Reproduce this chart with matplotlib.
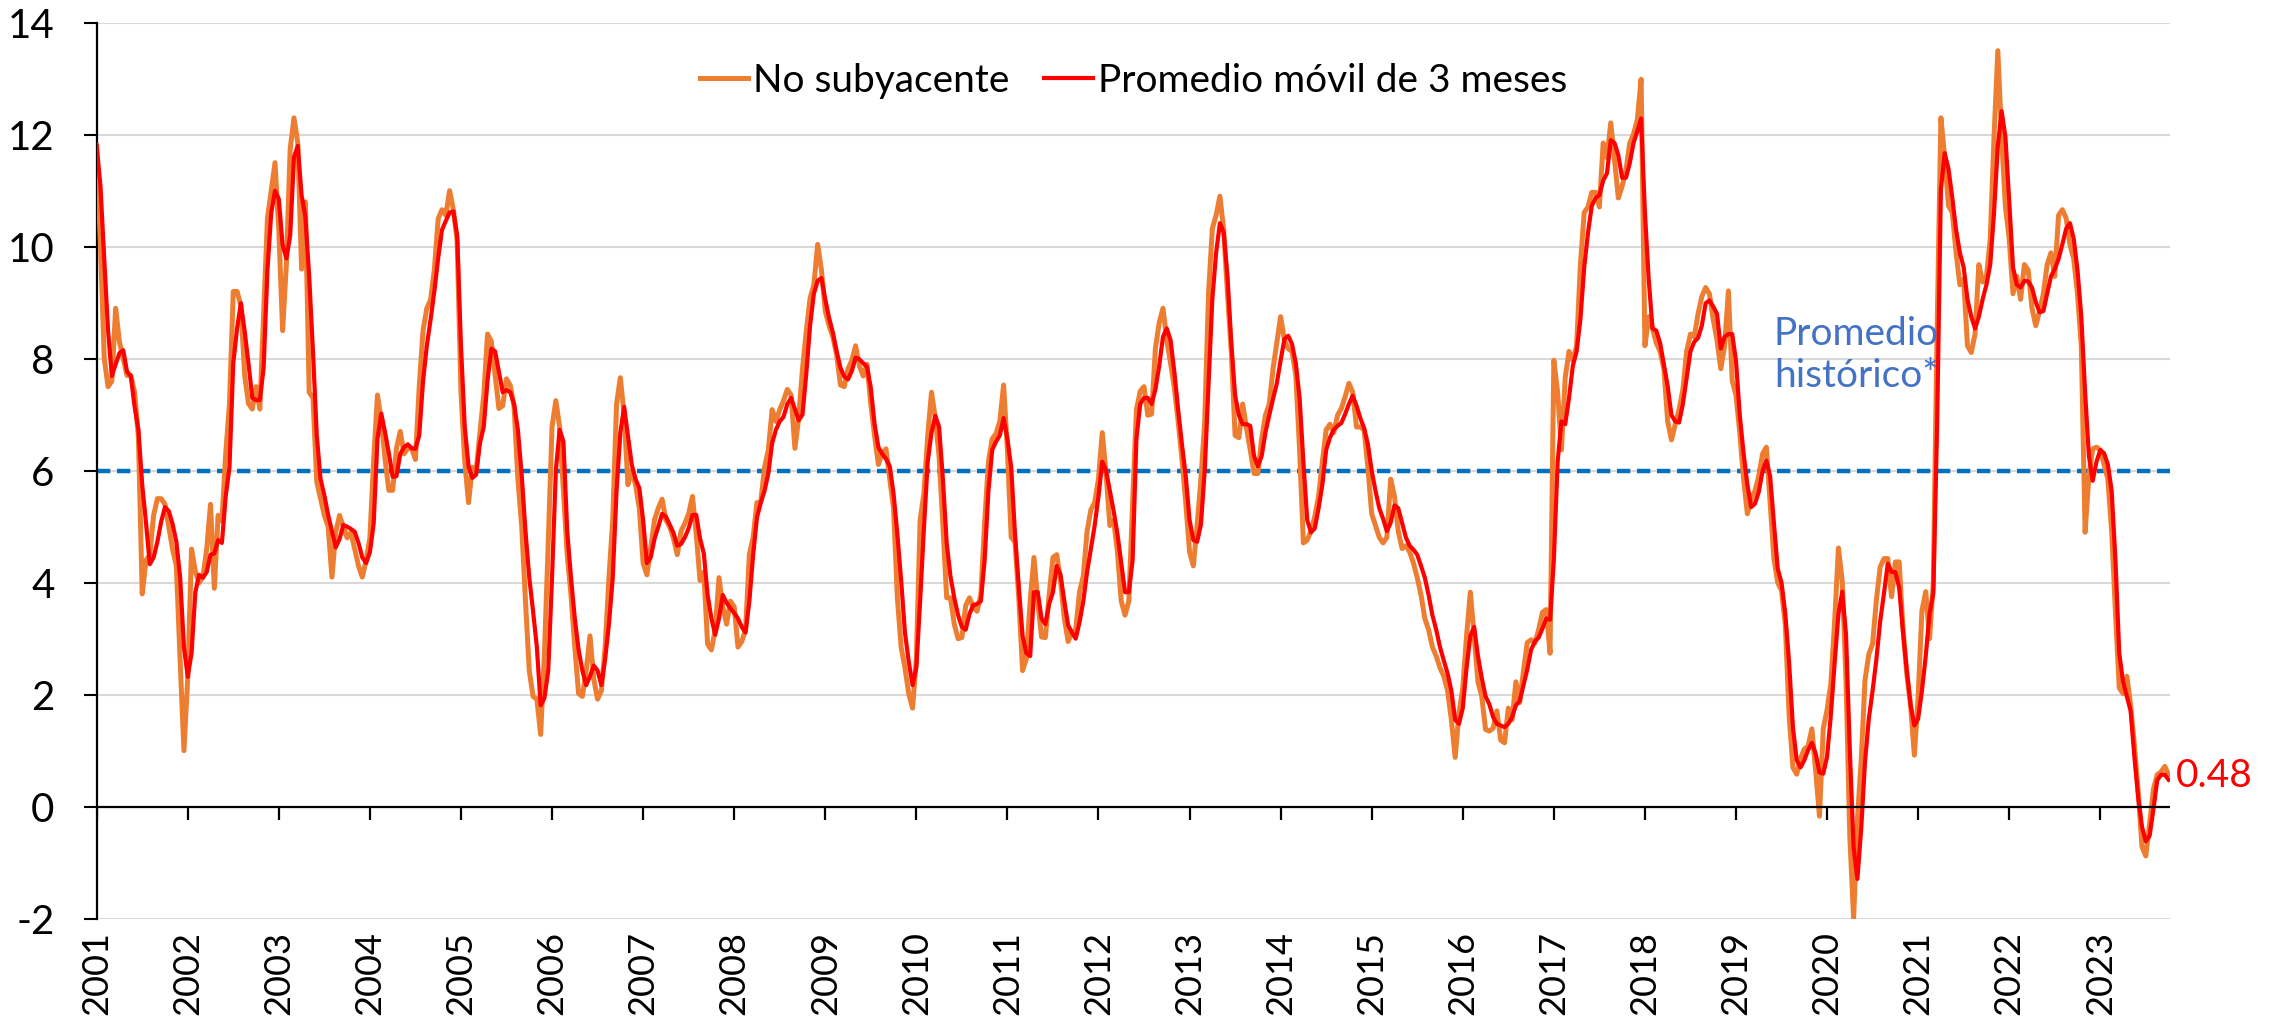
import numpy as np
import matplotlib
matplotlib.use("Agg")
import matplotlib.pyplot as plt

plt.rcParams['font.family'] = ['Lato', 'DejaVu Sans']

# Year labels of the category axis (one tick every 12 months)
years = [str(y) for y in range(2001, 2024)]

# "No subyacente" annual inflation, biweekly readings (2 per month), Jan-2001 .. Oct-2023
no_subyacente = [
    11.8, 10.0, 8.0, 7.5, 7.6, 8.9, 8.3, 8.0, 7.7, 7.7, 7.4, 6.6, 3.8, 4.4, 4.5, 5.2, 5.5, 5.5, 5.4, 5.0, 4.6, 4.3, 2.6, 1.0,  # 2001
    2.3, 4.6, 4.2, 4.0, 4.1, 4.6, 5.4, 3.9, 5.2, 5.1, 6.3, 7.2, 9.2, 9.2, 8.95, 7.7, 7.2, 7.1, 7.5, 7.1, 8.8, 10.5, 11.0, 11.5,  # 2002
    10.3, 8.5, 9.7, 11.75, 12.3, 11.85, 9.6, 10.8, 7.4, 7.3, 5.8, 5.5, 5.2, 5.0, 4.1, 4.9, 5.2, 5.0, 4.8, 4.9, 4.6, 4.3, 4.1, 4.4,  # 2003
    4.8, 6.2, 7.35, 6.9, 6.2, 5.65, 5.65, 6.4, 6.7, 6.3, 6.4, 6.4, 6.2, 7.5, 8.5, 8.9, 9.05, 9.6, 10.5, 10.66, 10.56, 11.0, 10.66, 10.1,  # 2004
    7.4, 6.16, 5.43, 6.06, 6.0, 6.68, 7.35, 8.44, 8.31, 7.71, 7.11, 7.16, 7.64, 7.52, 7.14, 5.85, 5.02, 3.67, 2.43, 1.97, 1.92, 1.29, 2.74, 4.71,  # 2005
    6.78, 7.25, 6.78, 5.64, 4.5, 3.78, 2.85, 2.02, 1.97, 2.43, 3.05, 2.28, 1.92, 2.07, 2.85, 4.09, 5.12, 7.19, 7.66, 6.99, 5.75, 6.0, 5.75, 5.33,  # 2006
    4.35, 4.14, 4.61, 5.12, 5.33, 5.49, 5.12, 5.0, 4.79, 4.5, 4.92, 5.06, 5.23, 5.54, 4.87, 4.04, 4.19, 2.9, 2.8, 3.16, 4.09, 3.57, 3.26, 3.67,  # 2007
    3.57, 2.85, 2.95, 3.16, 4.5, 4.81, 5.43, 5.43, 6.06, 6.37, 7.09, 6.88, 7.09, 7.25, 7.45, 7.35, 6.4, 6.94, 7.82, 8.49, 9.08, 9.32, 10.04, 9.58,  # 2008
    8.85, 8.59, 8.39, 8.07, 7.53, 7.5, 7.82, 7.97, 8.23, 7.87, 7.69, 7.9, 7.19, 6.62, 6.11, 6.31, 6.39, 5.85, 5.33, 3.73, 2.85, 2.48, 2.02, 1.76,  # 2009
    2.64, 5.12, 5.59, 6.62, 7.4, 6.94, 6.26, 5.02, 3.73, 3.73, 3.26, 3.0, 3.02, 3.59, 3.73, 3.57, 3.49, 3.78, 5.07, 6.16, 6.57, 6.66, 6.88, 7.53,  # 2010
    6.37, 4.81, 4.73, 3.73, 2.43, 2.64, 3.67, 4.45, 3.67, 3.03, 3.02, 3.78, 4.45, 4.5, 4.04, 3.36, 2.95, 3.11, 3.16, 3.83, 4.12, 4.92, 5.3, 5.43,  # 2011
    5.85, 6.68, 5.95, 5.02, 5.12, 4.55, 3.67, 3.42, 3.67, 5.43, 7.09, 7.42, 7.5, 6.99, 7.01, 8.18, 8.64, 8.9, 8.33, 7.92, 7.48, 6.88, 6.21, 5.43,  # 2012
    4.55, 4.3, 5.02, 5.85, 6.88, 9.16, 10.32, 10.56, 10.9, 10.3, 9.16, 8.13, 6.63, 6.59, 7.19, 6.76, 6.37, 5.95, 5.95, 6.57, 6.99, 7.19, 7.82, 8.28,  # 2013
    8.75, 8.33, 8.18, 8.13, 7.71, 6.37, 4.71, 4.76, 4.92, 5.18, 5.54, 6.16, 6.73, 6.83, 6.68, 6.99, 7.11, 7.32, 7.56, 7.4, 6.78, 6.78, 6.73, 6.06,  # 2014
    5.23, 5.02, 4.81, 4.71, 4.81, 5.85, 5.54, 4.92, 4.61, 4.66, 4.55, 4.35, 4.09, 3.78, 3.36, 3.16, 2.85, 2.69, 2.48, 2.33, 2.07, 1.55, 0.88, 1.66,  # 2015
    2.12, 3.05, 3.83, 3.05, 2.23, 1.97, 1.38, 1.35, 1.4, 1.71, 1.19, 1.14, 1.76, 1.55, 2.23, 1.86, 2.43, 2.93, 2.98, 2.92, 3.16, 3.47, 3.52, 2.74,  # 2016
    7.97, 7.4, 6.37, 7.66, 8.13, 7.97, 8.23, 9.68, 10.61, 10.71, 10.97, 10.97, 10.71, 11.85, 11.59, 12.21, 11.54, 10.87, 11.08, 11.36, 11.85, 12.01, 12.27, 12.99,  # 2017
    8.23, 8.75, 8.54, 8.28, 8.13, 7.82, 6.88, 6.55, 6.83, 7.09, 7.45, 8.13, 8.44, 8.39, 8.8, 9.11, 9.27, 9.16, 8.7, 8.33, 7.82, 8.23, 9.21, 7.61,  # 2018
    7.35, 6.68, 5.85, 5.23, 5.49, 5.64, 5.9, 6.3, 6.42, 5.43, 4.43, 4.0, 3.86, 3.25, 1.64, 0.7, 0.58, 0.86, 1.03, 1.08, 1.39, 0.64, -0.17, 1.39,  # 2019
    1.73, 2.2, 3.31, 4.62, 4.03, 2.26, -0.54, -2.0, -0.23, 0.83, 2.26, 2.72, 2.91, 3.69, 4.28, 4.43, 4.43, 3.75, 4.37, 4.37, 3.19, 2.38, 1.82, 0.92,  # 2020
    1.95, 3.5, 3.84, 3.0, 4.0, 8.5, 12.3, 11.6, 10.73, 10.61, 9.89, 9.32, 9.42, 8.23, 8.11, 8.44, 9.68, 9.37, 9.47, 10.14, 11.96, 13.5, 11.96, 10.71,  # 2021
    10.14, 9.16, 9.47, 9.06, 9.68, 9.58, 8.9, 8.59, 8.85, 9.16, 9.68, 9.89, 9.47, 10.56, 10.66, 10.51, 10.04, 9.78, 9.16, 8.23, 4.9, 5.9, 6.39, 6.42,  # 2022
    6.37, 6.11, 5.85, 4.92, 3.47, 2.12, 2.02, 2.33, 1.81, 1.09, 0.26, -0.72, -0.88, -0.31, 0.31, 0.57, 0.62, 0.72, 0.57,  # 2023
]

# "Promedio móvil de 3 meses", read at the same biweekly positions
promedio_movil = [
    11.8, 11.08, 9.77, 8.5, 7.69, 7.9, 8.1, 8.15, 7.77, 7.69, 7.14, 6.73, 5.75, 5.07, 4.33, 4.45, 4.73, 5.09, 5.35, 5.28, 5.05, 4.73, 4.09, 2.85,  # 2001
    2.32, 2.74, 3.83, 4.14, 4.09, 4.19, 4.5, 4.52, 4.76, 4.71, 5.54, 6.06, 7.92, 8.54, 8.99, 8.49, 7.92, 7.3, 7.26, 7.26, 7.84, 9.58, 10.6, 11.0,  # 2002
    10.85, 10.03, 9.79, 10.2, 11.6, 11.8, 10.92, 10.53, 9.47, 8.13, 6.63, 5.85, 5.56, 5.21, 4.92, 4.63, 4.78, 5.03, 5.0, 4.96, 4.91, 4.71, 4.45, 4.35,  # 2003
    4.54, 5.06, 6.57, 7.02, 6.68, 6.31, 5.89, 5.9, 6.3, 6.42, 6.47, 6.4, 6.39, 6.63, 7.59, 8.23, 8.7, 9.21, 9.8, 10.3, 10.46, 10.61, 10.63, 10.2,  # 2004
    8.23, 6.78, 6.08, 5.87, 5.93, 6.49, 6.78, 7.61, 8.18, 8.13, 7.76, 7.4, 7.44, 7.4, 7.19, 6.73, 5.93, 4.92, 4.09, 3.49, 2.85, 1.81, 1.94, 2.43,  # 2005
    4.09, 6.0, 6.73, 6.52, 4.92, 4.09, 3.36, 2.8, 2.43, 2.17, 2.33, 2.52, 2.43, 2.17, 2.64, 3.26, 4.09, 5.64, 6.68, 7.14, 6.63, 6.11, 5.85, 5.69,  # 2006
    5.12, 4.35, 4.45, 4.78, 5.0, 5.23, 5.18, 5.04, 4.89, 4.66, 4.69, 4.81, 4.97, 5.21, 5.21, 4.79, 4.52, 3.78, 3.36, 3.07, 3.36, 3.78, 3.64, 3.54,  # 2007
    3.46, 3.36, 3.21, 3.11, 3.67, 4.5, 5.16, 5.43, 5.64, 5.95, 6.49, 6.73, 6.88, 6.96, 7.19, 7.3, 7.1, 6.9, 7.0, 7.73, 8.59, 9.16, 9.39, 9.44,  # 2008
    9.06, 8.73, 8.47, 8.13, 7.84, 7.68, 7.63, 7.78, 8.02, 7.99, 7.92, 7.85, 7.48, 6.83, 6.42, 6.3, 6.21, 6.08, 5.59, 4.87, 4.04, 3.11, 2.59, 2.17,  # 2009
    2.48, 3.67, 4.97, 6.16, 6.68, 6.98, 6.78, 5.85, 4.71, 4.11, 3.73, 3.42, 3.21, 3.16, 3.44, 3.6, 3.62, 3.67, 4.4, 5.64, 6.37, 6.52, 6.63, 6.94,  # 2010
    6.57, 6.06, 4.87, 3.93, 3.05, 2.74, 2.69, 3.83, 3.83, 3.36, 3.26, 3.62, 3.83, 4.3, 4.14, 3.67, 3.24, 3.11, 3.0, 3.29, 3.67, 4.19, 4.61, 5.02,  # 2011
    5.54, 6.16, 6.0, 5.64, 5.28, 4.87, 4.35, 3.83, 3.83, 4.4, 6.57, 7.19, 7.3, 7.3, 7.19, 7.45, 7.87, 8.39, 8.54, 8.33, 7.76, 7.09, 6.47, 5.9,  # 2012
    5.12, 4.76, 4.73, 5.04, 6.0, 7.51, 9.06, 9.89, 10.42, 10.25, 9.47, 8.28, 7.35, 6.99, 6.83, 6.83, 6.8, 6.26, 6.08, 6.26, 6.68, 6.99, 7.28, 7.56,  # 2013
    7.97, 8.35, 8.41, 8.26, 7.92, 7.3, 6.16, 5.12, 4.9, 4.97, 5.33, 5.75, 6.37, 6.59, 6.73, 6.8, 6.85, 7.01, 7.19, 7.34, 7.16, 6.94, 6.76, 6.47,  # 2014
    6.0, 5.64, 5.33, 5.14, 4.92, 5.07, 5.38, 5.33, 5.07, 4.81, 4.66, 4.59, 4.5, 4.3, 4.09, 3.78, 3.42, 3.16, 2.85, 2.61, 2.38, 2.07, 1.55, 1.48,  # 2015
    1.76, 2.48, 3.05, 3.21, 2.69, 2.3, 1.97, 1.83, 1.6, 1.48, 1.45, 1.42, 1.48, 1.6, 1.81, 1.89, 2.17, 2.45, 2.8, 2.95, 3.02, 3.18, 3.36, 3.34,  # 2016
    4.4, 6.16, 6.88, 6.83, 7.3, 7.87, 8.13, 8.7, 9.63, 10.25, 10.73, 10.87, 10.92, 11.18, 11.31, 11.9, 11.85, 11.63, 11.23, 11.23, 11.49, 11.85, 12.06, 12.29,  # 2017
    10.61, 9.42, 8.54, 8.5, 8.28, 7.9, 7.51, 6.99, 6.88, 6.86, 7.19, 7.66, 8.13, 8.3, 8.37, 8.59, 8.99, 9.04, 8.93, 8.8, 8.18, 8.39, 8.44, 8.44,  # 2018
    7.96, 6.99, 6.31, 5.75, 5.35, 5.41, 5.62, 5.99, 6.18, 5.9, 5.06, 4.25, 4.0, 3.44, 2.57, 1.42, 0.83, 0.7, 0.83, 1.01, 1.14, 0.95, 0.61, 0.59,  # 2019
    0.89, 1.64, 2.57, 3.44, 3.84, 3.07, 1.01, -0.73, -1.29, -0.39, 0.8, 1.57, 2.07, 2.63, 3.31, 3.81, 4.34, 4.19, 4.19, 3.91, 3.13, 2.44, 1.82, 1.45,  # 2020
    1.57, 2.07, 2.69, 3.44, 3.81, 6.8, 11.02, 11.67, 11.39, 10.87, 10.3, 9.89, 9.63, 9.06, 8.75, 8.54, 8.75, 9.06, 9.32, 9.68, 10.61, 11.8, 12.42, 11.96,  # 2021
    10.82, 9.63, 9.32, 9.27, 9.39, 9.38, 9.27, 9.01, 8.83, 8.85, 9.16, 9.47, 9.6, 9.78, 10.04, 10.32, 10.42, 10.14, 9.58, 8.75, 7.4, 6.26, 5.82, 6.16,  # 2022
    6.37, 6.31, 6.11, 5.64, 4.4, 2.74, 2.23, 1.97, 1.71, 0.88, 0.16, -0.36, -0.62, -0.52, -0.05, 0.47, 0.57, 0.57, 0.48,  # 2023
]

promedio_historico = 6.0
ultimo_valor_label = "0.48"

# positions in months since Jan-2001 (two readings per month)
x = np.arange(len(no_subyacente)) / 2.0
x_pm = np.arange(len(promedio_movil)) / 2.0
year_pos = [12 * i for i in range(len(years))]

fig = plt.figure(figsize=(22.8, 10.26), dpi=100)
ax = fig.add_axes([0.0424, 0.1046, 0.9094, 0.8733])

ax.set_xlim(0, 273.2)
ax.set_ylim(-2, 14)

# grid and reference lines
ax.set_yticks(range(-2, 15, 2))
ax.set_yticklabels([str(v) for v in range(-2, 15, 2)])
ax.grid(axis='y', color='#D9D9D9', lw=1.5, zorder=0)
ax.grid(axis='x', visible=False)
ax.set_axisbelow(True)

ax.axhline(promedio_historico, color='#0070C0', lw=3.2, ls=(0, (3.0, 1.5)), zorder=2)

l1, = ax.plot(x, no_subyacente, color='#ED7D31', lw=3.6, solid_joinstyle='round',
              label='No subyacente', zorder=3)
l2, = ax.plot(x_pm, promedio_movil, color='#FF0000', lw=3.0, solid_joinstyle='round',
              label='Promedio móvil de 3 meses', zorder=4)

# horizontal axis line at zero with year tick marks
ax.axhline(0, color='black', lw=1.6, zorder=5)
ax.vlines(year_pos, -0.24, 0, color='black', lw=1.6, zorder=5)

for s in ['top', 'right', 'bottom']:
    ax.spines[s].set_visible(False)
ax.spines['left'].set_color('black')
ax.spines['left'].set_linewidth(1.6)

ax.set_xticks(year_pos)
ax.set_xticklabels(years, rotation=90, va='top', ha='center')
ax.tick_params(axis='x', length=0, pad=9, labelsize=26)
ax.tick_params(axis='y', length=9.4, width=1.5, pad=21, labelsize=29, colors='black')

ax.legend(handles=[l1, l2], loc='center', bbox_to_anchor=(0.5, 0.935), ncol=2,
          frameon=False, fontsize=28, handlelength=1.25, handletextpad=0.12,
          columnspacing=0.9)

ax.text(221, 8.07, 'Promedio\nhistórico*', color='#4472C4', fontsize=28,
        ha='left', va='center', linespacing=1.2, zorder=6)

ax.text(274.0, 0.55, ultimo_valor_label, color='#FF0000', fontsize=28,
        ha='left', va='center', clip_on=False)

fig.savefig('out.png', dpi=100)
